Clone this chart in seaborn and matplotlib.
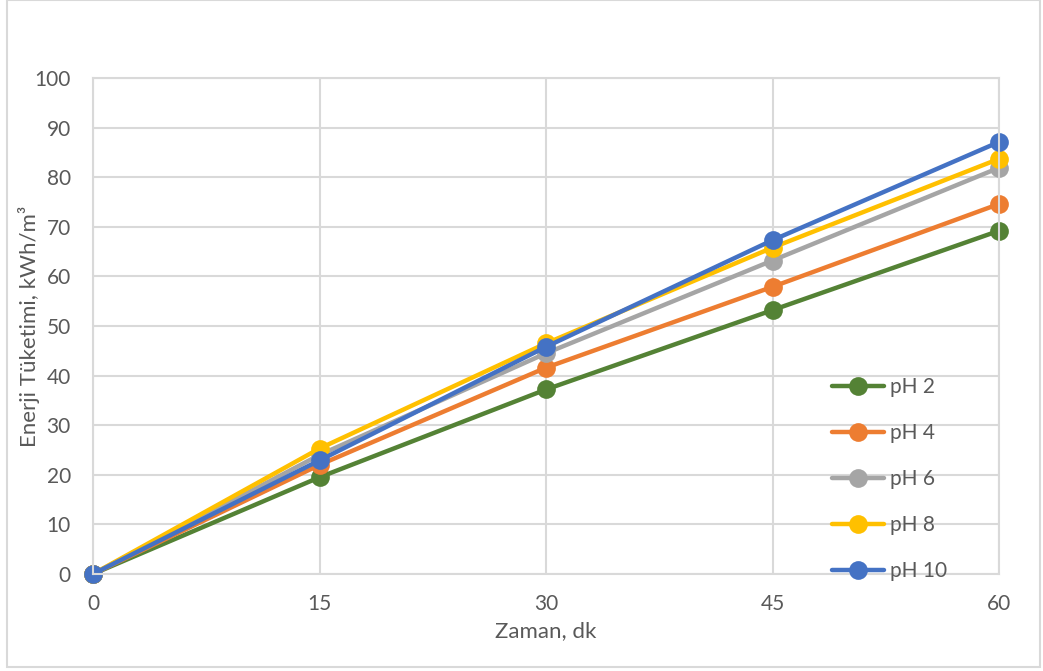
import matplotlib
matplotlib.use("Agg")
import matplotlib.pyplot as plt
import pandas as pd
import seaborn as sns
from matplotlib.patches import Rectangle

# data
zaman = [0, 15, 30, 45, 60]
ph_2 = [0, 19.5, 37.2, 53.2, 69.2]
ph_4 = [0, 22.0, 41.6, 57.9, 74.6]
ph_6 = [0, 24.0, 44.5, 63.2, 81.9]
ph_8 = [0, 25.3, 46.5, 65.8, 83.7]
ph_10 = [0, 22.9, 45.8, 67.3, 87.1]
series_names = ["pH 2", "pH 4", "pH 6", "pH 8", "pH 10"]
colors = ["#548235", "#ED7D31", "#A5A5A5", "#FFC000", "#4472C4"]

df = pd.DataFrame({"Zaman": zaman, "pH 2": ph_2, "pH 4": ph_4,
                   "pH 6": ph_6, "pH 8": ph_8, "pH 10": ph_10})
long_df = df.melt(id_vars="Zaman", var_name="seri", value_name="enerji")

sns.set_theme(style="white")
plt.rcParams["font.family"] = ["Lato", "DejaVu Sans"]
text_color = "#595959"
grid_color = "#d9d9d9"

fig = plt.figure(figsize=(10.43, 6.71), dpi=100)
ax = fig.add_axes([93 / 1043, 97 / 671, 906 / 1043, 496 / 671])

for name, col in zip(series_names, colors):
    sns.lineplot(
        data=long_df[long_df["seri"] == name],
        x="Zaman",
        y="enerji",
        ax=ax,
        color=col,
        linewidth=3.2,
        marker="o",
        markersize=13.5,
        markeredgewidth=0,
        label=name,
        clip_on=False,
    )

ax.set_xlim(0, 60)
ax.set_ylim(0, 100)
ax.set_xticks([0, 15, 30, 45, 60])
ax.set_yticks(range(0, 101, 10))
ax.grid(True, color=grid_color, linewidth=1.5)
ax.set_axisbelow(True)
for s in ax.spines.values():
    s.set_color(grid_color)
    s.set_linewidth(1.5)
ax.tick_params(axis="y", length=0, labelsize=15, labelcolor=text_color, pad=16)
ax.tick_params(axis="x", length=0, labelsize=15, labelcolor=text_color, pad=14.5)

ax.set_xlabel("Zaman, dk", fontsize=16, color=text_color, labelpad=5)
ax.set_ylabel("Enerji Tüketimi, kWh/m³", fontsize=16, color=text_color, labelpad=-4)

leg = ax.legend(
    loc="upper left",
    bbox_to_anchor=(832 / 1043, (671 - 377) / 671),
    bbox_transform=fig.transFigure,
    frameon=False,
    fontsize=15,
    labelspacing=1.25,
    handlelength=2.5,
    handletextpad=0.3,
    borderaxespad=0,
    borderpad=0,
)
for t in leg.get_texts():
    t.set_color(text_color)

# outer chart border
fig.patches.append(Rectangle((7 / 1043, 4 / 671), 1033 / 1043, 667 / 671,
                             transform=fig.transFigure, fill=False,
                             edgecolor=grid_color, linewidth=1.5))

fig.savefig("out.png", dpi=100)
